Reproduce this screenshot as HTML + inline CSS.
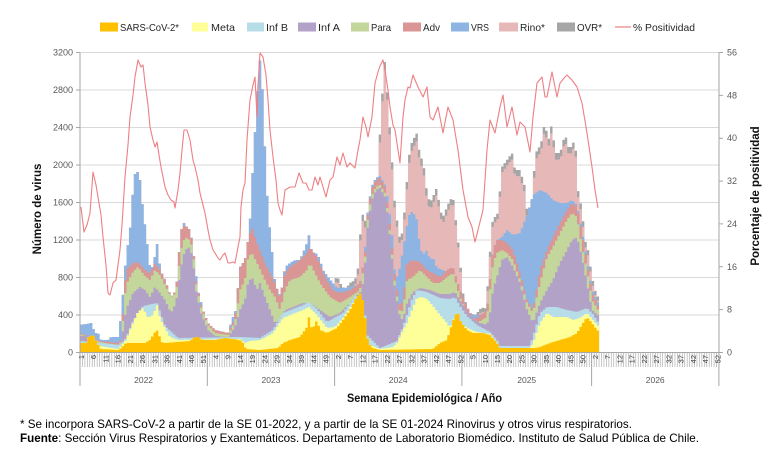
<!DOCTYPE html>
<html><head><meta charset="utf-8"><style>
html,body{margin:0;padding:0;background:#fff;}
svg{display:block;}
text{font-family:"Liberation Sans",Arial,sans-serif;}
</style></head><body>
<svg id="c" width="779" height="456" viewBox="0 0 779 456" xmlns="http://www.w3.org/2000/svg">
<rect x="0" y="0" width="779" height="456" fill="#fff"/>
<!-- legend -->
<g font-size="10.5" fill="#262626">
<rect x="100" y="22.5" width="18" height="9" fill="#FFC000"/><text x="120" y="31" textLength="59" lengthAdjust="spacingAndGlyphs">SARS-CoV-2*</text>
<rect x="192" y="22.5" width="16" height="9" fill="#FFFF99"/><text x="211" y="31" textLength="24" lengthAdjust="spacingAndGlyphs">Meta</text>
<rect x="247" y="22.5" width="17" height="9" fill="#B7DEE8"/><text x="266" y="31" textLength="22" lengthAdjust="spacingAndGlyphs">Inf B</text>
<rect x="298" y="22.5" width="18" height="9" fill="#B3A2C7"/><text x="318" y="31" textLength="22" lengthAdjust="spacingAndGlyphs">Inf A</text>
<rect x="351" y="22.5" width="18" height="9" fill="#C3D69B"/><text x="371" y="31" textLength="20" lengthAdjust="spacingAndGlyphs">Para</text>
<rect x="403" y="22.5" width="18" height="9" fill="#D99694"/><text x="423" y="31" textLength="17" lengthAdjust="spacingAndGlyphs">Adv</text>
<rect x="451" y="22.5" width="18" height="9" fill="#8EB4E3"/><text x="471" y="31" textLength="18" lengthAdjust="spacingAndGlyphs">VRS</text>
<rect x="499" y="22.5" width="19" height="9" fill="#E6B9B8"/><text x="520" y="31" textLength="25" lengthAdjust="spacingAndGlyphs">Rino*</text>
<rect x="557" y="22.5" width="18" height="9" fill="#A6A6A6"/><text x="577" y="31" textLength="25" lengthAdjust="spacingAndGlyphs">OVR*</text>
<line x1="615" y1="27" x2="631" y2="27" stroke="#EE7F84" stroke-width="1.2"/><text x="633" y="31" textLength="62" lengthAdjust="spacingAndGlyphs">% Positividad</text>
</g>
<!-- gridlines -->
<g stroke="#D9D9D9" stroke-width="1">
<line x1="80" y1="52.5" x2="719" y2="52.5"/>
<line x1="80" y1="90" x2="719" y2="90"/>
<line x1="80" y1="127.5" x2="719" y2="127.5"/>
<line x1="80" y1="165" x2="719" y2="165"/>
<line x1="80" y1="202.5" x2="719" y2="202.5"/>
<line x1="80" y1="240" x2="719" y2="240"/>
<line x1="80" y1="277.5" x2="719" y2="277.5"/>
<line x1="80" y1="315" x2="719" y2="315"/>
</g>
<g id="bars"></g>
<!-- axes -->
<g stroke="#A6A6A6" stroke-width="1" fill="none">
<line x1="80" y1="52.5" x2="80" y2="352.5"/>
<line x1="719" y1="52.5" x2="719" y2="352.5"/>
<line x1="80" y1="352.5" x2="719" y2="352.5"/>
<path d="M76,52.5H80M76,90H80M76,127.5H80M76,165H80M76,202.5H80M76,240H80M76,277.5H80M76,315H80M76,352.5H80"/>
<path d="M719,52.5H723M719,95.36H723M719,138.21H723M719,181.07H723M719,223.93H723M719,266.79H723M719,309.64H723M719,352.5H723"/>
</g>
<g id="comb"></g>
<g stroke="#A6A6A6" stroke-width="1">
<line x1="80" y1="352.5" x2="80" y2="386"/>
<line x1="207.3" y1="352.5" x2="207.3" y2="386"/>
<line x1="334.6" y1="352.5" x2="334.6" y2="386"/>
<line x1="461.9" y1="352.5" x2="461.9" y2="386"/>
<line x1="591.6" y1="352.5" x2="591.6" y2="386"/>
<line x1="718.9" y1="352.5" x2="718.9" y2="386"/>
</g>
<!-- left labels -->
<g font-size="9" fill="#595959" text-anchor="end">
<text x="73" y="55.5">3200</text>
<text x="73" y="93">2800</text>
<text x="73" y="130.5">2400</text>
<text x="73" y="168">2000</text>
<text x="73" y="205.5">1600</text>
<text x="73" y="243">1200</text>
<text x="73" y="280.5">800</text>
<text x="73" y="318">400</text>
<text x="73" y="355.5">0</text>
</g>
<g font-size="9" fill="#595959">
<text x="727" y="55.5">56</text>
<text x="727" y="98.4">48</text>
<text x="727" y="141.2">40</text>
<text x="727" y="184.1">32</text>
<text x="727" y="226.9">24</text>
<text x="727" y="269.8">16</text>
<text x="727" y="312.6">8</text>
<text x="727" y="355.5">0</text>
</g>
<text transform="translate(41,209) rotate(-90)" text-anchor="middle" font-size="11.5" font-weight="bold" fill="#111">Número de virus</text>
<text transform="translate(759,196) rotate(-90)" text-anchor="middle" font-size="11.5" font-weight="bold" fill="#111">Porcentaje de positividad</text>
<!-- week labels -->
<g font-size="7.5" fill="#404040" text-anchor="end">
<text transform="translate(81.22,355) rotate(-90)" dy="0.35em">1</text>
<text transform="translate(93.46,355) rotate(-90)" dy="0.35em">6</text>
<text transform="translate(105.70,355) rotate(-90)" dy="0.35em">11</text>
<text transform="translate(117.94,355) rotate(-90)" dy="0.35em">16</text>
<text transform="translate(130.18,355) rotate(-90)" dy="0.35em">21</text>
<text transform="translate(142.42,355) rotate(-90)" dy="0.35em">26</text>
<text transform="translate(154.66,355) rotate(-90)" dy="0.35em">31</text>
<text transform="translate(166.90,355) rotate(-90)" dy="0.35em">36</text>
<text transform="translate(179.14,355) rotate(-90)" dy="0.35em">41</text>
<text transform="translate(191.38,355) rotate(-90)" dy="0.35em">46</text>
<text transform="translate(203.62,355) rotate(-90)" dy="0.35em">51</text>
<text transform="translate(215.86,355) rotate(-90)" dy="0.35em">4</text>
<text transform="translate(228.10,355) rotate(-90)" dy="0.35em">9</text>
<text transform="translate(240.34,355) rotate(-90)" dy="0.35em">14</text>
<text transform="translate(252.58,355) rotate(-90)" dy="0.35em">19</text>
<text transform="translate(264.82,355) rotate(-90)" dy="0.35em">24</text>
<text transform="translate(277.06,355) rotate(-90)" dy="0.35em">29</text>
<text transform="translate(289.30,355) rotate(-90)" dy="0.35em">34</text>
<text transform="translate(301.54,355) rotate(-90)" dy="0.35em">39</text>
<text transform="translate(313.78,355) rotate(-90)" dy="0.35em">44</text>
<text transform="translate(326.02,355) rotate(-90)" dy="0.35em">49</text>
<text transform="translate(338.26,355) rotate(-90)" dy="0.35em">2</text>
<text transform="translate(350.50,355) rotate(-90)" dy="0.35em">7</text>
<text transform="translate(362.74,355) rotate(-90)" dy="0.35em">12</text>
<text transform="translate(374.98,355) rotate(-90)" dy="0.35em">17</text>
<text transform="translate(387.22,355) rotate(-90)" dy="0.35em">22</text>
<text transform="translate(399.46,355) rotate(-90)" dy="0.35em">27</text>
<text transform="translate(411.70,355) rotate(-90)" dy="0.35em">32</text>
<text transform="translate(423.94,355) rotate(-90)" dy="0.35em">37</text>
<text transform="translate(436.18,355) rotate(-90)" dy="0.35em">42</text>
<text transform="translate(448.42,355) rotate(-90)" dy="0.35em">47</text>
<text transform="translate(460.66,355) rotate(-90)" dy="0.35em">52</text>
<text transform="translate(472.90,355) rotate(-90)" dy="0.35em">5</text>
<text transform="translate(485.14,355) rotate(-90)" dy="0.35em">10</text>
<text transform="translate(497.38,355) rotate(-90)" dy="0.35em">15</text>
<text transform="translate(509.62,355) rotate(-90)" dy="0.35em">20</text>
<text transform="translate(521.86,355) rotate(-90)" dy="0.35em">25</text>
<text transform="translate(534.10,355) rotate(-90)" dy="0.35em">30</text>
<text transform="translate(546.34,355) rotate(-90)" dy="0.35em">35</text>
<text transform="translate(558.58,355) rotate(-90)" dy="0.35em">40</text>
<text transform="translate(570.82,355) rotate(-90)" dy="0.35em">45</text>
<text transform="translate(583.06,355) rotate(-90)" dy="0.35em">50</text>
<text transform="translate(595.30,355) rotate(-90)" dy="0.35em">2</text>
<text transform="translate(607.54,355) rotate(-90)" dy="0.35em">7</text>
<text transform="translate(619.78,355) rotate(-90)" dy="0.35em">12</text>
<text transform="translate(632.02,355) rotate(-90)" dy="0.35em">17</text>
<text transform="translate(644.26,355) rotate(-90)" dy="0.35em">22</text>
<text transform="translate(656.50,355) rotate(-90)" dy="0.35em">27</text>
<text transform="translate(668.74,355) rotate(-90)" dy="0.35em">32</text>
<text transform="translate(680.98,355) rotate(-90)" dy="0.35em">37</text>
<text transform="translate(693.22,355) rotate(-90)" dy="0.35em">42</text>
<text transform="translate(705.46,355) rotate(-90)" dy="0.35em">47</text>
<text transform="translate(717.70,355) rotate(-90)" dy="0.35em">52</text>
</g>
<g font-size="8.5" fill="#595959" text-anchor="middle">
<text x="143.6" y="383">2022</text>
<text x="271" y="383">2023</text>
<text x="398.2" y="383">2024</text>
<text x="526.7" y="383">2025</text>
<text x="655.2" y="383">2026</text>
</g>
<text x="424.5" y="402" text-anchor="middle" font-size="11.5" font-weight="bold" fill="#111" textLength="155" lengthAdjust="spacingAndGlyphs">Semana Epidemiológica / Año</text>
<!-- percent line -->
<polyline fill="none" stroke="#EE7F84" stroke-width="1.1" stroke-linejoin="round" points="81,207 84,232 87,225 90,213 93,172 96,185 98,197 101,215 103,237 106,265 108,293 110,295 113,283 116,280 118,265 120,250 122,225 125,177 128,145 130,117 133,95 135,77 138,60 141,67 143,65 145,83 148,105 150,127 153,140 155,147 157,142 159,155 161,167 165,187 168,195 171,200 174,202 175,208 178,190 180,173 182,150 184,130 187,130 190,140 193,160 195,167 198,180 200,193 203,205 205,213 208,230 210,240 213,250 215,253 218,258 220,260 223,255 225,253 228,263 230,263 233,262 235,263 238,247 240,237 241,207 243,190 245,183 247,140 250,100 253,85 255,77 257,117 258,85 260,53 263,57 266,75 268,100 270,130 273,157 276,180 278,203 280,210 282,215 285,190 290,187 295,187 299,173 303,183 306,183 309,190 312,190 315,177 318,185 320,177 323,187 326,197 330,180 333,177 337,157 340,165 343,153 347,167 350,163 355,168 358,150 360,140 363,117 366,127 368,137 370,127 372,117 375,83 378,72 380,66 383,60 385,70 388,90 390,107 393,125 395,130 398,150 400,163 403,117 405,100 408,87 410,88 413,75 415,80 418,87 423,97 427,87 430,117 433,120 438,107 443,133 448,107 453,120 458,150 463,190 468,217 472,227 475,242 478,230 483,210 487,150 490,120 495,133 500,107 503,95 507,127 512,107 517,135 520,122 525,127 530,152 533,117 537,83 542,77 545,97 547,97 552,72 557,97 560,83 565,77 567,75 572,80 577,87 582,103 587,133 592,167 595,190 598,208"/>
<!-- footnotes -->
<text x="20" y="428" font-size="12" fill="#000" textLength="612" lengthAdjust="spacingAndGlyphs">* Se incorpora SARS-CoV-2 a partir de la SE 01-2022, y a partir de la SE 01-2024 Rinovirus y otros virus respiratorios.</text>
<text x="20" y="442" font-size="12" fill="#000" textLength="679" lengthAdjust="spacingAndGlyphs"><tspan font-weight="bold">Fuente</tspan>: Sección Virus Respiratorios y Exantemáticos. Departamento de Laboratorio Biomédico. Instituto de Salud Pública de Chile.</text>
</svg>
<script>
(function(){
var NS="http://www.w3.org/2000/svg";
var W=639/261, X0=80, BASE=352.5, N=212;
var SARS=[[80,343],[86,343],[89,336],[93,335],[97,343],[101,349],[118,350],[121,348],[126,343],[145,343],[150,340],[155,332],[158,330],[161,342],[165,343],[190,341],[195,337],[198,337],[202,340],[215,340],[225,338],[240,340],[243,343],[246,349],[260,350],[278,348],[283,343],[290,340],[300,337],[307,327],[309,317],[312,330],[317,320],[320,330],[327,333],[337,328],[343,320],[350,310],[356,298],[361,293],[364,305],[367,337],[370,345],[373,348],[380,350],[433,349],[440,343],[447,340],[450,330],[455,315],[458,313],[461,322],[467,330],[473,333],[483,333],[490,335],[497,343],[500,348],[535,348],[540,347],[550,343],[560,340],[570,337],[577,333],[583,323],[587,317],[592,323],[597,330],[600,332]];
var META=[[80,343],[118,349],[121,346],[126,340],[130,330],[133,323],[138,312],[143,308],[148,318],[153,315],[157,305],[160,318],[165,328],[170,337],[178,340],[240,339],[245,343],[250,341],[260,340],[266,337],[273,333],[277,327],[283,318],[293,314],[303,310],[309,307],[317,315],[327,328],[335,327],[343,318],[350,308],[356,298],[361,293],[364,305],[367,337],[370,345],[380,349],[393,347],[397,343],[403,330],[407,323],[412,310],[417,298],[422,297],[427,299],[433,306],[440,315],[447,323],[450,328],[455,315],[460,322],[467,328],[477,332],[490,334],[497,343],[500,348],[530,348],[533,343],[540,323],[547,313],[553,317],[560,317],[567,317],[573,320],[580,318],[587,313],[593,320],[600,328]];
var INFB=[[80,341],[120,345],[126,338],[133,321],[143,306],[157,303],[165,326],[178,338],[240,337],[260,338],[273,330],[283,313],[293,309],[303,305],[309,302],[317,309],[327,322],[343,313],[356,295],[364,302],[367,335],[380,348],[397,341],[403,327],[412,299],[417,290],[427,292],[440,298],[450,299],[455,297],[460,306],[467,316],[477,325],[490,332],[497,340],[500,346],[530,346],[535,330],[540,313],[547,307],[557,307],[567,310],[577,312],[587,308],[593,314],[600,325]];
var INFA=[[80,336],[88,336],[95,340],[100,344],[118,347],[121,344],[126,310],[133,293],[140,287],[145,290],[150,297],[155,287],[160,293],[165,300],[171,313],[176,303],[181,267],[185,250],[190,247],[193,260],[196,290],[201,313],[208,330],[215,336],[228,337],[235,327],[240,310],[245,300],[248,283],[252,277],[257,290],[260,283],[265,297],[270,310],[275,323],[280,320],[285,310],[293,307],[303,303],[310,303],[320,310],[330,317],[340,313],[353,300],[360,293],[364,280],[368,223],[372,200],[376,190],[380,188],[385,197],[388,217],[392,257],[395,290],[400,317],[403,320],[407,303],[413,292],[420,288],[430,290],[440,294],[450,294],[455,292],[460,300],[467,312],[477,322],[487,325],[490,313],[493,290],[497,277],[502,260],[507,257],[513,267],[520,283],[527,310],[533,323],[540,303],[547,290],[553,280],[560,263],[567,250],[572,240],[577,237],[582,257],[587,283],[592,310],[600,317]];
var PARA=[[80,334],[100,342],[118,345],[121,342],[126,285],[133,272],[138,267],[145,276],[150,280],[155,270],[160,275],[165,285],[171,297],[176,293],[181,250],[185,237],[190,240],[193,250],[196,283],[201,307],[208,325],[215,333],[228,335],[235,322],[240,290],[245,280],[248,257],[252,253],[257,263],[265,280],[270,290],[275,297],[280,310],[285,290],[290,280],[300,277],[307,270],[310,263],[320,283],[330,297],[340,303],[350,297],[360,290],[365,260],[368,215],[372,195],[376,187],[380,185],[385,193],[388,213],[392,253],[395,285],[400,313],[403,310],[407,280],[413,277],[420,270],[427,277],[433,283],[440,283],[447,277],[453,273],[460,297],[467,313],[473,323],[477,323],[487,317],[493,263],[497,253],[502,250],[507,253],[513,260],[520,280],[527,303],[533,313],[540,283],[547,257],[553,247],[560,233],[567,220],[572,213],[577,217],[582,247],[587,270],[592,300],[600,313]];
var ADV=[[80,333],[100,341],[118,343],[121,340],[126,270],[133,263],[138,262],[145,270],[150,273],[155,263],[160,270],[165,280],[171,297],[176,290],[181,230],[185,225],[190,230],[193,247],[196,280],[201,305],[208,323],[215,330],[228,333],[235,318],[240,267],[245,260],[248,240],[252,227],[257,243],[265,263],[270,273],[275,283],[280,297],[285,273],[290,267],[300,260],[307,253],[310,247],[317,257],[325,277],[333,290],[340,293],[350,290],[360,283],[365,255],[368,210],[372,188],[376,180],[380,178],[385,187],[388,207],[392,247],[395,278],[400,307],[403,300],[407,263],[413,260],[420,262],[427,270],[433,273],[440,277],[447,270],[453,267],[460,290],[467,307],[473,318],[477,318],[487,310],[493,250],[497,240],[502,240],[507,243],[513,250],[520,273],[527,300],[533,310],[540,270],[547,250],[553,237],[560,223],[567,210],[572,203],[577,207],[582,233],[587,263],[592,293],[600,310]];
var VRS=[[80,325],[86,324],[91,323],[95,333],[98,333],[101,340],[108,340],[111,337],[118,337],[121,317],[126,257],[130,230],[133,190],[136,167],[140,180],[143,210],[146,233],[150,267],[153,267],[157,243],[160,267],[165,283],[170,297],[175,298],[178,283],[181,240],[184,223],[188,230],[193,250],[198,290],[205,317],[211,330],[218,337],[228,333],[233,317],[238,305],[241,303],[245,287],[248,260],[252,183],[255,133],[258,83],[260,60],[262,80],[265,150],[268,210],[272,250],[275,283],[278,297],[282,290],[285,267],[290,263],[295,260],[300,260],[303,253],[307,243],[309,235],[312,257],[317,253],[320,260],[323,270],[328,277],[333,283],[337,288],[345,288],[350,287],[357,285],[362,280],[365,250],[368,208],[372,186],[376,178],[380,176],[385,185],[388,200],[392,233],[395,275],[398,277],[403,250],[407,225],[410,212],[413,212],[417,220],[420,247],[423,255],[427,250],[430,260],[433,257],[437,268],[443,270],[447,273],[453,277],[460,298],[463,305],[470,313],[477,316],[487,312],[490,290],[493,250],[497,240],[502,237],[507,230],[513,235],[520,233],[527,215],[533,195],[540,190],[547,193],[553,200],[560,203],[567,203],[572,200],[577,205],[582,230],[587,260],[592,290],[600,307]];
var TOT=[[334,283],[337,275],[340,283],[345,290],[350,283],[355,280],[358,268],[360,237],[363,213],[367,227],[370,233],[373,203],[377,187],[380,133],[383,83],[385,60],[388,103],[392,160],[395,207],[400,240],[403,230],[407,180],[410,147],[413,140],[417,133],[420,157],[423,160],[427,193],[430,203],[433,197],[437,187],[440,210],[443,217],[447,207],[450,200],[453,197],[457,230],[460,260],[463,293],[467,307],[470,313],[473,317],[477,313],[482,307],[485,310],[488,283],[492,223],[495,217],[498,213],[502,167],[507,160],[512,153],[515,170],[520,170],[522,177],[525,187],[528,223],[532,217],[535,153],[538,150],[542,140],[545,120],[548,143],[552,123],[555,153],[560,153],[562,147],[565,133],[568,147],[572,147],[575,137],[578,190],[582,210],[585,240],[588,250],[592,277],[595,290],[598,297],[600,300]];
var OVR=[[334,4],[360,6],[380,8],[400,6],[410,8],[450,6],[470,3],[490,5],[540,7],[580,6],[600,4]];
function f(p,x){ if(x<=p[0][0])return p[0][1]; for(var i=1;i<p.length;i++){ if(x<=p[i][0]){var a=p[i-1],b=p[i];return a[1]+(b[1]-a[1])*(x-a[0])/(b[0]-a[0]);} } return p[p.length-1][1]; }
var B=[SARS,META,INFB,INFA,PARA,ADV,VRS];
var cols=["#FFC000","#FFFF99","#B7DEE8","#B3A2C7","#C3D69B","#D99694","#8EB4E3","#E6B9B8","#A6A6A6"];
var tops=[];
for(var i=0;i<N;i++){
  var xc=X0+(i+0.5)*W;
  var t=B.map(function(p){return f(p,xc);});
  var tot,rino;
  if(xc<334.6){tot=t[6];rino=t[6];}else{tot=f(TOT,xc);rino=tot+f(OVR,xc);}
  t.push(rino,tot);
  var prev=BASE;
  for(var k=0;k<9;k++){ if(t[k]>prev)t[k]=prev; prev=t[k]; }
  tops.push(t);
}
var g=document.getElementById('bars');
for(var k=8;k>=0;k--){
  var d="M"+X0+","+BASE;
  for(var i=0;i<N;i++){
    var x1=(X0+i*W).toFixed(2), x2=(X0+(i+1)*W).toFixed(2), y=tops[i][k].toFixed(2);
    d+=" L"+x1+","+y+" L"+x2+","+y;
  }
  d+=" L"+(X0+N*W).toFixed(2)+","+BASE+" Z";
  var p=document.createElementNS(NS,'path'); p.setAttribute('d',d); p.setAttribute('fill',cols[k]); g.appendChild(p);
}
var cd="";
for(var i=0;i<=261;i++){ var x=(X0+i*W).toFixed(2); cd+="M"+x+",352.5V367"; }
var cp=document.createElementNS(NS,'path'); cp.setAttribute('d',cd); cp.setAttribute('stroke','#B0B0B0'); cp.setAttribute('stroke-width','0.7'); cp.setAttribute('fill','none');
document.getElementById('comb').appendChild(cp);
})();
</script>
</body></html>
